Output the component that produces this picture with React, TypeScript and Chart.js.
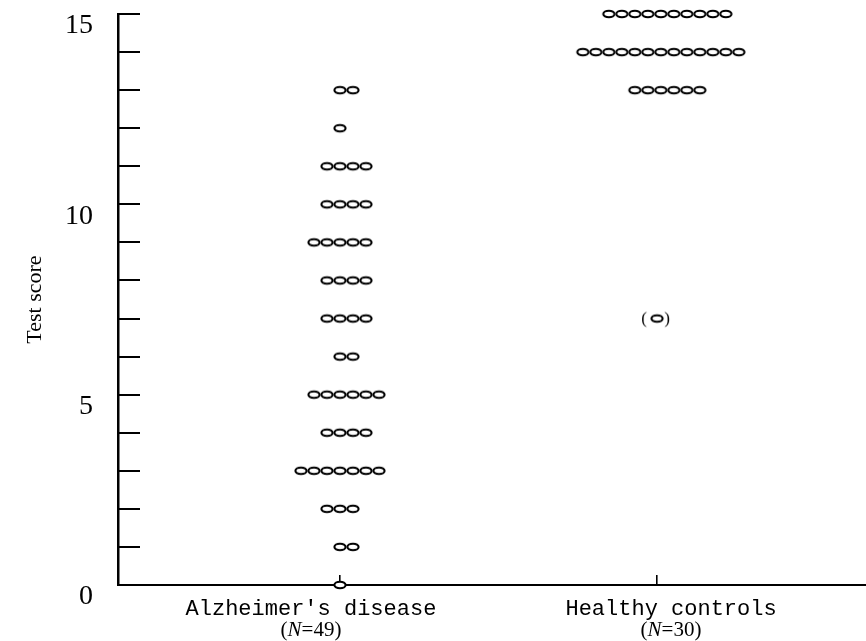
import React, { useEffect, useRef } from "react";
import { Chart, registerables } from "chart.js";

Chart.register(...registerables);

// ---- data ----
const categories = ["Alzheimer's disease", "Healthy controls"];
const groupSizes = [49, 30];
const scores = [0, 1, 2, 3, 4, 5, 6, 7, 8, 9, 10, 11, 12, 13, 14, 15];
// number of subjects at each score (index = score)
const alzheimerCounts = [1, 2, 3, 7, 4, 6, 2, 4, 4, 5, 4, 4, 1, 2, 0, 0];
const healthyCounts = [0, 0, 0, 0, 0, 0, 0, 0, 0, 0, 0, 0, 0, 6, 13, 10];
// healthy control shown in parentheses
const healthyOutlierScores = [7];
const yTickLabels = ["0", "5", "10", "15"];

// ---- layout / style constants ----
const DOT_STEP = 0.041; // horizontal spacing of stacked dots, in x units
const CLUSTER_SHIFT = [0, 0.012];
const LABEL_SHIFT = [-29, 14];

function stackPoints(counts: number[], center: number) {
  const pts: { x: number; y: number }[] = [];
  scores.forEach((s, k) => {
    const n = counts[k];
    const start = -Math.floor((n - 1) / 2);
    for (let i = 0; i < n; i++) {
      pts.push({ x: center + (start + i) * DOT_STEP, y: s });
    }
  });
  return pts;
}

function makeDot(withParens: boolean) {
  const c = document.createElement("canvas");
  const w = withParens ? 34 : 16;
  const h = withParens ? 20 : 12;
  c.width = w;
  c.height = h;
  const g = c.getContext("2d")!;
  const cx = w / 2;
  const cy = h / 2;
  g.beginPath();
  g.ellipse(cx, cy, 5.6, 3.3, 0, 0, Math.PI * 2);
  g.fillStyle = "#fff";
  g.fill();
  g.lineWidth = 2.1;
  g.strokeStyle = "#000";
  g.stroke();
  if (withParens) {
    g.fillStyle = "#000";
    g.font = '17px "Liberation Serif"';
    g.textBaseline = "middle";
    g.textAlign = "center";
    g.fillText("(", cx - 13, cy + 1);
    g.fillText(")", cx + 10, cy + 1);
  }
  return c;
}

const categoryLabelPlugin = {
  id: "categoryLabels",
  afterDraw(chart: any) {
    const ctx = chart.ctx;
    const xs = chart.scales.x;
    ctx.save();
    ctx.fillStyle = "#000";
    categories.forEach((name, i) => {
      const px = xs.getPixelForValue(i) + LABEL_SHIFT[i];
      ctx.font = '22px "Liberation Mono"';
      ctx.textAlign = "center";
      ctx.textBaseline = "alphabetic";
      ctx.fillText(name, px, 615);
      // (N=xx) with italic N
      const parts = [
        { t: "(", f: '21px "Liberation Serif"' },
        { t: "N", f: 'italic 21px "Liberation Serif"' },
        { t: "=", f: '21px "Liberation Serif"' },
        { t: String(groupSizes[i]) + ")", f: '21px "Liberation Serif"' },
      ];
      let total = 0;
      parts.forEach((p) => {
        ctx.font = p.f;
        total += ctx.measureText(p.t).width;
      });
      let x = px - total / 2;
      ctx.textAlign = "left";
      parts.forEach((p) => {
        ctx.font = p.f;
        ctx.fillText(p.t, x, 636);
        x += ctx.measureText(p.t).width;
      });
    });
    ctx.restore();
  },
};

export default function App() {
  const ref = useRef<HTMLCanvasElement | null>(null);

  useEffect(() => {
    document.body.style.margin = "0";
    const canvas = ref.current!;
    const dot = makeDot(false);
    const dotParen = makeDot(true);

    const chart = new Chart(canvas, {
      type: "scatter",
      data: {
        datasets: [
          {
            label: categories[0],
            data: stackPoints(alzheimerCounts, 0 + CLUSTER_SHIFT[0]),
            pointStyle: dot as any,
            pointRadius: 6,
            clip: false as any,
          },
          {
            label: categories[1],
            data: stackPoints(healthyCounts, 1 + CLUSTER_SHIFT[1]),
            pointStyle: dot as any,
            pointRadius: 6,
            clip: false as any,
          },
          {
            label: categories[1] + " (outlier)",
            data: healthyOutlierScores.map((s) => ({ x: 1, y: s })),
            pointStyle: dotParen as any,
            pointRadius: 6,
            clip: false as any,
          },
        ],
      },
      options: {
        animation: false,
        responsive: false,
        devicePixelRatio: 1,
        layout: {
          autoPadding: false,
          padding: { top: 14, right: 0, left: 0, bottom: 0 },
        },
        plugins: {
          legend: { display: false },
          tooltip: { enabled: false },
        },
        scales: {
          x: {
            type: "linear",
            position: "bottom",
            min: -0.7,
            max: 1.659,
            border: { display: true, color: "#000", width: 2 },
            grid: {
              drawOnChartArea: false,
              drawTicks: true,
              tickLength: -10,
              color: "#000",
              lineWidth: 1.6,
            },
            ticks: {
              autoSkip: false,
              maxRotation: 0,
              callback: () => "",
            },
            afterBuildTicks: (s: any) => {
              s.ticks = categories.map((_, i) => ({ value: i }));
            },
            afterFit: (s: any) => {
              s.height = 56;
              s.paddingLeft = 0;
              s.paddingRight = 0;
            },
          },
          y: {
            type: "linear",
            min: 0,
            max: 15,
            border: { display: true, color: "#000", width: 2.5 },
            grid: {
              drawOnChartArea: false,
              drawTicks: true,
              tickLength: -22,
              color: "#000",
              lineWidth: 2,
            },
            ticks: {
              stepSize: 1,
              autoSkip: false,
              padding: 47,
              labelOffset: 12,
              color: "#000",
              font: { family: '"Liberation Serif"', size: 28 },
              callback: (v: any) => {
                const s = String(v);
                return yTickLabels.includes(s) ? s : "";
              },
            },
            title: {
              display: true,
              text: "Test score",
              color: "#000",
              font: { family: '"Liberation Serif"', size: 22 },
              padding: { top: 22, bottom: 0 },
            },
            afterFit: (s: any) => {
              s.width = 118;
              s.paddingTop = 0;
              s.paddingBottom = 0;
            },
          },
        },
      },
      plugins: [categoryLabelPlugin],
    });
    return () => chart.destroy();
  }, []);

  return (
    <div style={{ width: 866, height: 641, background: "#fff" }}>
      <canvas ref={ref} width={866} height={641} style={{ display: "block" }} />
    </div>
  );
}
